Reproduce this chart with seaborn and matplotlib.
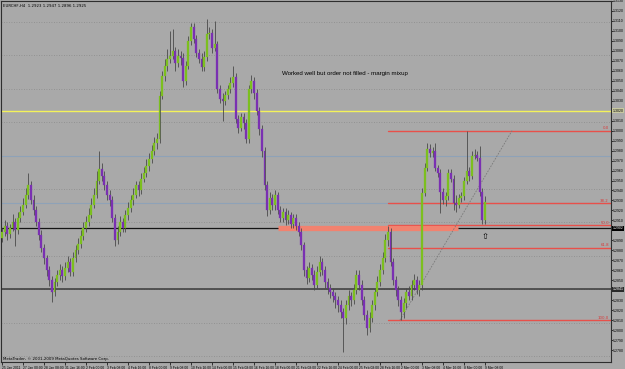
import matplotlib
matplotlib.use("Agg")
import matplotlib.pyplot as plt
import seaborn as sns
import numpy as np
import pandas as pd

# ---------------- data ----------------
title_text = "EURCHF,H4  1.2923 1.2947 1.2896 1.2925"
note_text = "Worked well but order not filled - margin mixup"
copyright_text = "MetaTrader, \u00a9 2001-2009 MetaQuotes Software Corp."

time_labels = ["25 Jan 2011", "27 Jan 00:00", "28 Jan 08:00", "31 Jan 16:00", "2 Feb 00:00",
               "3 Feb 08:00", "4 Feb 16:00", "8 Feb 00:00", "9 Feb 08:00", "10 Feb 16:00",
               "14 Feb 00:00", "15 Feb 08:00", "16 Feb 16:00", "18 Feb 00:00", "21 Feb 08:00",
               "22 Feb 16:00", "24 Feb 00:00", "25 Feb 08:00", "28 Feb 16:00", "2 Mar 00:00",
               "3 Mar 08:00", "4 Mar 16:00", "8 Mar 00:00", "9 Mar 08:00"]

opens = [1.2892, 1.2898, 1.2904, 1.2896, 1.2902, 1.2908, 1.2900, 1.2912, 1.2918, 1.2925,
         1.2935, 1.2945, 1.2930, 1.2920, 1.2908, 1.2895, 1.2882, 1.2872, 1.2860, 1.2850,
         1.2838, 1.2848, 1.2855, 1.2860, 1.2854, 1.2862, 1.2868, 1.2858, 1.2872, 1.2880,
         1.2886, 1.2894, 1.2902, 1.2908, 1.2915, 1.2925, 1.2935, 1.2950, 1.2962, 1.2955,
         1.2945, 1.2935, 1.2930, 1.2912, 1.2890, 1.2898, 1.2908, 1.2902, 1.2915, 1.2922,
         1.2930, 1.2935, 1.2945, 1.2940, 1.2952, 1.2958, 1.2965, 1.2972, 1.2980, 1.2988,
         1.2992, 1.3035, 1.3055, 1.3065, 1.3072, 1.3075, 1.3080, 1.3068, 1.3075, 1.3073,
         1.3050, 1.3065, 1.3090, 1.3104, 1.3092, 1.3078, 1.3072, 1.3064, 1.3074, 1.3097,
         1.3098, 1.3083, 1.3087, 1.3042, 1.3032, 1.3030, 1.3036, 1.3042, 1.3048, 1.3054,
         1.3012, 1.3003, 1.3014, 1.3008, 1.2992, 1.3042, 1.3050, 1.3038, 1.3020, 1.3002,
         1.2980, 1.2945, 1.2920, 1.2932, 1.2925, 1.2935, 1.2920, 1.2912, 1.2918, 1.2910,
         1.2915, 1.2906, 1.2912, 1.2904, 1.2898, 1.2885, 1.2860, 1.2852, 1.2862, 1.2855,
         1.2845, 1.2858, 1.2868, 1.2860, 1.2848, 1.2842, 1.2838, 1.2834, 1.2830, 1.2825,
         1.2818, 1.2812, 1.2825, 1.2834, 1.2830, 1.2840, 1.2855, 1.2845, 1.2830, 1.2815,
         1.2802, 1.2812, 1.2825, 1.2838, 1.2848, 1.2860, 1.2872, 1.2890, 1.2898, 1.2868,
         1.2850, 1.2840, 1.2830, 1.2818, 1.2827, 1.2838, 1.2834, 1.2845, 1.2850, 1.2840,
         1.2845, 1.2937, 1.2963, 1.2982, 1.2978, 1.2980, 1.2963, 1.2958, 1.2938, 1.2930,
         1.2934, 1.2958, 1.2952, 1.2927, 1.2925, 1.2932, 1.2934, 1.2950, 1.2960, 1.2955,
         1.2975, 1.2976, 1.2973, 1.2938, 1.2910]

closes = [1.2898, 1.2904, 1.2896, 1.2902, 1.2908, 1.2900, 1.2912, 1.2918, 1.2925, 1.2935,
          1.2945, 1.2930, 1.2920, 1.2908, 1.2895, 1.2882, 1.2872, 1.2860, 1.2850, 1.2838,
          1.2848, 1.2855, 1.2860, 1.2854, 1.2862, 1.2868, 1.2858, 1.2872, 1.2880, 1.2886,
          1.2894, 1.2902, 1.2908, 1.2915, 1.2925, 1.2935, 1.2950, 1.2962, 1.2955, 1.2945,
          1.2935, 1.2930, 1.2912, 1.2890, 1.2898, 1.2908, 1.2902, 1.2915, 1.2922, 1.2930,
          1.2935, 1.2945, 1.2940, 1.2952, 1.2958, 1.2965, 1.2972, 1.2980, 1.2988, 1.2992,
          1.3035, 1.3055, 1.3065, 1.3072, 1.3075, 1.3080, 1.3068, 1.3075, 1.3073, 1.3050,
          1.3065, 1.3090, 1.3104, 1.3092, 1.3078, 1.3072, 1.3064, 1.3074, 1.3097, 1.3098,
          1.3083, 1.3087, 1.3042, 1.3032, 1.3030, 1.3036, 1.3042, 1.3048, 1.3054, 1.3012,
          1.3003, 1.3014, 1.3008, 1.2992, 1.3042, 1.3050, 1.3038, 1.3020, 1.3002, 1.2980,
          1.2945, 1.2920, 1.2932, 1.2925, 1.2935, 1.2920, 1.2912, 1.2918, 1.2910, 1.2915,
          1.2906, 1.2912, 1.2904, 1.2898, 1.2885, 1.2860, 1.2852, 1.2862, 1.2855, 1.2845,
          1.2858, 1.2868, 1.2860, 1.2848, 1.2842, 1.2838, 1.2834, 1.2830, 1.2825, 1.2818,
          1.2812, 1.2825, 1.2834, 1.2830, 1.2840, 1.2855, 1.2845, 1.2830, 1.2815, 1.2802,
          1.2812, 1.2825, 1.2838, 1.2848, 1.2860, 1.2872, 1.2890, 1.2898, 1.2868, 1.2850,
          1.2840, 1.2830, 1.2818, 1.2827, 1.2838, 1.2834, 1.2845, 1.2850, 1.2840, 1.2845,
          1.2937, 1.2963, 1.2982, 1.2978, 1.2980, 1.2963, 1.2958, 1.2938, 1.2930, 1.2934,
          1.2958, 1.2952, 1.2927, 1.2925, 1.2932, 1.2934, 1.2950, 1.2960, 1.2955, 1.2975,
          1.2976, 1.2973, 1.2938, 1.2910, 1.2928]

highs = [1.2902, 1.2910, 1.2908, 1.2906, 1.2916, 1.2912, 1.2918, 1.2924, 1.2932, 1.2942,
         1.2958, 1.2950, 1.2935, 1.2924, 1.2912, 1.2900, 1.2886, 1.2875, 1.2864, 1.2854,
         1.2852, 1.2860, 1.2866, 1.2864, 1.2868, 1.2874, 1.2872, 1.2878, 1.2885, 1.2892,
         1.2900, 1.2908, 1.2914, 1.2922, 1.2932, 1.2942, 1.2960, 1.2980, 1.2968, 1.2960,
         1.2950, 1.2940, 1.2934, 1.2916, 1.2904, 1.2914, 1.2912, 1.2920, 1.2928, 1.2935,
         1.2942, 1.2950, 1.2950, 1.2958, 1.2964, 1.2972, 1.2978, 1.2986, 1.2994, 1.2998,
         1.3040, 1.3060, 1.3072, 1.3082, 1.3100, 1.3102, 1.3084, 1.3082, 1.3080, 1.3078,
         1.3070, 1.3095, 1.3108, 1.3108, 1.3096, 1.3082, 1.3078, 1.3080, 1.3112, 1.3104,
         1.3102, 1.3110, 1.3090, 1.3046, 1.3038, 1.3040, 1.3046, 1.3054, 1.3065, 1.3058,
         1.3016, 1.3018, 1.3018, 1.3012, 1.3046, 1.3056, 1.3054, 1.3042, 1.3024, 1.3006,
         1.2984, 1.2950, 1.2938, 1.2936, 1.2940, 1.2938, 1.2924, 1.2922, 1.2922, 1.2920,
         1.2918, 1.2916, 1.2916, 1.2908, 1.2902, 1.2888, 1.2864, 1.2868, 1.2866, 1.2860,
         1.2864, 1.2874, 1.2872, 1.2864, 1.2852, 1.2846, 1.2842, 1.2838, 1.2834, 1.2830,
         1.2822, 1.2830, 1.2840, 1.2838, 1.2846, 1.2860, 1.2860, 1.2850, 1.2834, 1.2820,
         1.2818, 1.2830, 1.2842, 1.2854, 1.2866, 1.2878, 1.2896, 1.2904, 1.2902, 1.2872,
         1.2854, 1.2844, 1.2834, 1.2832, 1.2842, 1.2844, 1.2850, 1.2856, 1.2854, 1.2850,
         1.2942, 1.2968, 1.2988, 1.2987, 1.2984, 1.2988, 1.2966, 1.2962, 1.2942, 1.2938,
         1.2962, 1.2962, 1.2956, 1.2935, 1.2936, 1.2938, 1.2954, 1.3000, 1.2964, 1.2980,
         1.2982, 1.2980, 1.2985, 1.2942, 1.2934]

lows = [1.2888, 1.2894, 1.2890, 1.2892, 1.2899, 1.2884, 1.2896, 1.2908, 1.2915, 1.2922,
        1.2931, 1.2926, 1.2915, 1.2904, 1.2890, 1.2878, 1.2866, 1.2854, 1.2844, 1.2828,
        1.2834, 1.2844, 1.2850, 1.2848, 1.2850, 1.2858, 1.2854, 1.2854, 1.2868, 1.2876,
        1.2882, 1.2890, 1.2898, 1.2904, 1.2912, 1.2922, 1.2932, 1.2946, 1.2950, 1.2940,
        1.2930, 1.2924, 1.2908, 1.2884, 1.2886, 1.2894, 1.2898, 1.2898, 1.2910, 1.2918,
        1.2925, 1.2932, 1.2934, 1.2936, 1.2948, 1.2954, 1.2960, 1.2968, 1.2976, 1.2982,
        1.2988, 1.3032, 1.3050, 1.3060, 1.3068, 1.3072, 1.3060, 1.3064, 1.3066, 1.3044,
        1.3046, 1.3062, 1.3086, 1.3088, 1.3074, 1.3068, 1.3060, 1.3060, 1.3070, 1.3092,
        1.3078, 1.3080, 1.3038, 1.3028, 1.3010, 1.3026, 1.3032, 1.3038, 1.3044, 1.3008,
        1.2998, 1.3000, 1.3002, 1.2988, 1.2988, 1.3038, 1.3032, 1.3016, 1.2996, 1.2974,
        1.2940, 1.2914, 1.2916, 1.2920, 1.2920, 1.2916, 1.2908, 1.2908, 1.2905, 1.2906,
        1.2902, 1.2902, 1.2900, 1.2894, 1.2880, 1.2854, 1.2846, 1.2848, 1.2850, 1.2840,
        1.2842, 1.2854, 1.2855, 1.2842, 1.2836, 1.2832, 1.2828, 1.2822, 1.2818, 1.2812,
        1.2778, 1.2806, 1.2820, 1.2824, 1.2826, 1.2836, 1.2840, 1.2825, 1.2810, 1.2795,
        1.2798, 1.2808, 1.2820, 1.2834, 1.2844, 1.2856, 1.2868, 1.2884, 1.2864, 1.2845,
        1.2834, 1.2824, 1.2810, 1.2812, 1.2822, 1.2830, 1.2830, 1.2840, 1.2836, 1.2834,
        1.2840, 1.2934, 1.2960, 1.2974, 1.2974, 1.2960, 1.2954, 1.2917, 1.2926, 1.2924,
        1.2930, 1.2948, 1.2920, 1.2918, 1.2922, 1.2928, 1.2930, 1.2946, 1.2950, 1.2952,
        1.2972, 1.2970, 1.2934, 1.2906, 1.2906]

# horizontal objects drawn on the chart
hline_levels = [1.3020, 1.2975, 1.2927, 1.2902, 1.2841]
band_level = 1.2902
band_start, band_end = 105, 173.7
fib_high, fib_low = 1.3000, 1.2810
fib_levels = [0.0, 38.2, 50.0, 61.8, 100.0]
fib_start = 147
trend_x = [151.6, 194.3]
trend_y = [1.2810, 1.3000]
arrow_pos = (184, 1.2898)

# ---------------- style ----------------
BG = "#a9a9a9"
BULL = "#7cbf1f"
BEAR = "#7a30b2"
WICK = "#4a4a4a"
AXFONT = ["Liberation Sans", "DejaVu Sans"]

sns.set_style("ticks")
plt.rcParams["font.family"] = ["DejaVu Sans"]

W, H = 625, 369
fig = plt.figure(figsize=(W / 100, H / 100), dpi=100, facecolor=BG)
ax = fig.add_axes([0.5 / W, (H - 362) / H, 610.5 / W, 361 / H])
ax.set_facecolor(BG)

n = len(closes)
df = pd.DataFrame({"i": np.arange(n), "o": opens, "h": highs, "l": lows, "c": closes})
x_px0, px_per_bar = 2.0, 2.625
ax.set_xlim((0.5 - x_px0) / px_per_bar, (611 - x_px0) / px_per_bar)
ax.set_ylim(1.3130 - 0.0362, 1.3130 - 0.0001)

# grid (dotted)
for g in np.arange(1.3109, 1.2770, -0.00335):
    ax.axhline(g, color="#8a8a8a", lw=0.6, ls=(0, (1, 2)), zorder=0.5)

# horizontal lines
ax.axhline(hline_levels[0], color="#f4f25a", lw=1.0, zorder=1)
ax.axhline(hline_levels[1], color="#8ea2b8", lw=0.8, zorder=1)
ax.axhline(hline_levels[2], color="#8ea2b8", lw=0.8, zorder=1)
ax.axhline(hline_levels[3], color="#151515", lw=0.9, zorder=1)
ax.axhline(hline_levels[4], color="#3a3a3a", lw=1.1, zorder=1)

# wicks and bodies
ax.vlines(df["i"], df["l"], df["h"], color=WICK, lw=0.6, zorder=2)
bull = df[df["c"] >= df["o"]]
bear = df[df["c"] < df["o"]]
for sub, col in ((bull, BULL), (bear, BEAR)):
    hgt = (sub["c"] - sub["o"]).to_numpy()
    hgt = np.where(np.abs(hgt) < 0.00006, np.sign(hgt + 1e-9) * 0.00008, hgt)
    ax.bar(sub["i"], hgt, bottom=sub["o"], width=0.72, color=col,
           edgecolor=col, linewidth=0.2, zorder=3)

# fibonacci levels
xr = ax.get_xlim()[1]
for lv in fib_levels:
    p = fib_high - lv / 100.0 * (fib_high - fib_low)
    ax.plot([fib_start, xr], [p, p], color="#e8504a", lw=1.0, zorder=1.5)
    ax.text(xr - 0.8, p + 0.00003, f"{lv:.1f}", color="#d83a3a", fontsize=2.8,
            ha="right", va="bottom", zorder=5)

# thick salmon band
ax.plot([band_start, band_end], [band_level, band_level], color="#f2826f",
        lw=3.8, solid_capstyle="butt", zorder=1.6)

# trend (fib base) line
sns.lineplot(x=trend_x, y=trend_y, ax=ax, color="#7a7a7a", lw=0.6,
             linestyle=(0, (2, 1.5)), zorder=1.7)

# annotations
ax.text(344 / 610.5, 1 - 72 / 361, note_text, transform=ax.transAxes, fontsize=4.4,
        family=AXFONT, color="black", ha="center", va="center")
ax.text(arrow_pos[0], arrow_pos[1], "\u21e7", fontsize=6, color="black",
        ha="center", va="top", zorder=6)
ax.text(0.004, 1 - 5 / 361, title_text, transform=ax.transAxes, fontsize=2.8,
        color="black", ha="left", va="center")
ax.text(0.004, 1 - 358 / 361, copyright_text, transform=ax.transAxes, fontsize=2.8,
        color="black", ha="left", va="center")

# axes
box_levels = [hline_levels[3], hline_levels[4], hline_levels[0]]
ax.yaxis.tick_right()
yt = np.round(np.arange(1.2780, 1.3131, 0.0010), 4)
ax.set_yticks(yt)
ax.set_yticklabels(["" if min(abs(v - b) for b in box_levels) < 0.0007 else f"{v:.4f}"
                    for v in yt], family=AXFONT)
ax.tick_params(axis="y", labelsize=2.5, length=1.2, width=0.5, pad=0.4, colors="black")
ax.set_xticks(np.arange(0, n, 8))
ax.set_xticklabels(time_labels, ha="left", family=AXFONT)
ax.tick_params(axis="x", labelsize=2.4, length=2, width=0.5, pad=0.6, colors="black")
for s in ax.spines.values():
    s.set_color("#2e2e2e")
    s.set_linewidth(0.8)
ax.set_xlabel("")
ax.set_ylabel("")

# price label boxes on the right scale
tr = ax.get_yaxis_transform()
box_specs = [(hline_levels[3], "black", "white"), (hline_levels[4], "#2a2a2a", "white"),
             (hline_levels[0], "#c8c8a0", "black")]
for lvl, fc, tc in box_specs:
    ax.text(1.0025, lvl, f"{lvl:.4f}", transform=tr, fontsize=2.5, color=tc, ha="left",
            va="center", clip_on=False, family=AXFONT,
            bbox=dict(boxstyle="square,pad=0.1", fc=fc, ec="none"))

fig.savefig("out.png", dpi=100, facecolor=BG)
